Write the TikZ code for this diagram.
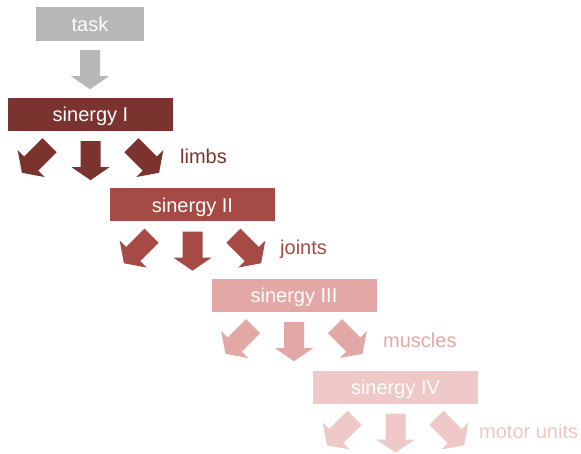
\documentclass[tikz,border=0pt]{standalone}
\usepackage{fontspec}
\setmainfont{Liberation Sans}
\definecolor{cgray}{HTML}{B6B7B6}
\definecolor{cone}{HTML}{7B3330}
\definecolor{ctwo}{HTML}{A64A45}
\definecolor{cthree}{HTML}{E3A8A6}
\definecolor{cfour}{HTML}{EFC9C7}
\begin{document}
\begin{tikzpicture}[x=1pt,y=-1pt,
  box/.style={rectangle,inner sep=0pt,minimum width=165pt,minimum height=33pt,text height=14.6pt,text depth=0pt,text=white,font=\fontsize{20}{24}\selectfont},
  lbl/.style={anchor=base west,inner sep=0pt,font=\fontsize{20}{24}\selectfont},
  pics/blockarrow/.style={code={
    \fill[#1] (-10,0) -- (10,0) -- (10,26) -- (19,26) -- (0,39) -- (-19,26) -- (-10,26) -- cycle;
  }},
  pics/arrowfan/.style={code={
    \pic at (0,10) {blockarrow=#1};
    \pic[rotate=-45] at (-41,14) {blockarrow=#1};
    \pic[rotate=45] at (41,14) {blockarrow=#1};
  }}]
\useasboundingbox (0,0) rectangle (581,454);
\node[box,fill=cgray,minimum width=108pt,minimum height=34pt] (task) at (90,24) {task};
\node[box,fill=cone] (s1) at (90.5,114.5) {sinergy I};
\node[box,fill=ctwo] (s2) at (192.5,205) {sinergy II};
\node[box,fill=cthree] (s3) at (294,295.5) {sinergy III};
\node[box,fill=cfour] (s4) at (395.5,387) {sinergy IV};
\pic at ([yshift=-9pt]task.south) {blockarrow=cgray};
\pic at (s1.south) {arrowfan=cone};
\pic at (s2.south) {arrowfan=ctwo};
\pic at (s3.south) {arrowfan=cthree};
\pic at (s4.south) {arrowfan=cfour};
\node[lbl,text=cone] (l1) at (180,164) {limbs};
\node[lbl,text=ctwo] (l2) at (280,255) {joints};
\node[lbl,text=cthree] (l3) at (383,347) {muscles};
\node[lbl,text=cfour!90!cthree] (l4) at (479,438) {motor units};
\end{tikzpicture}
\end{document}
